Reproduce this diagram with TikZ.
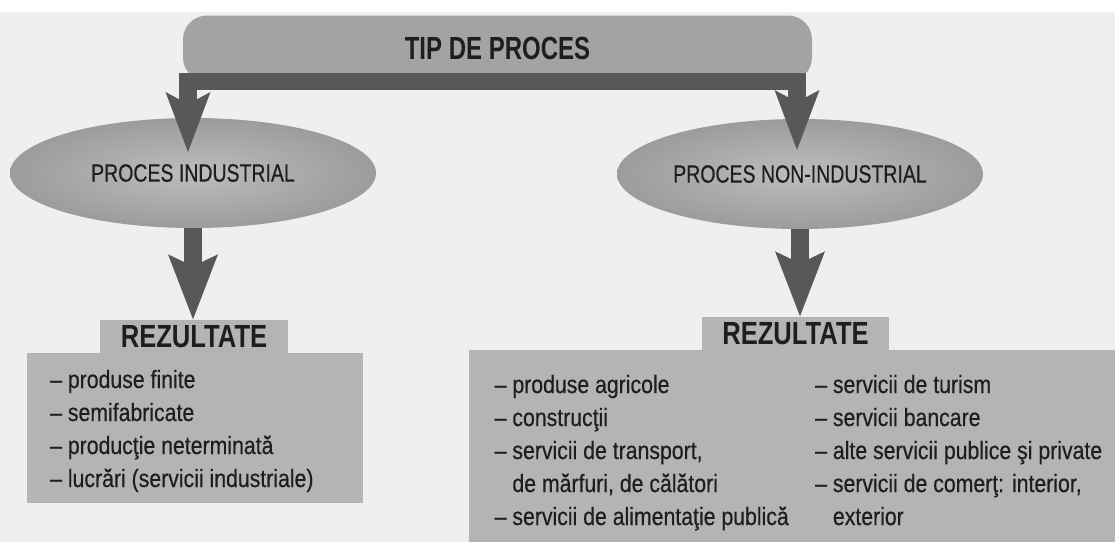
\documentclass[tikz,border=0pt]{standalone}
\usepackage{fontspec}
\setmainfont{Liberation Sans}
\newfontfamily\itemfont[FakeStretch=0.85,FakeBold=0.4]{Liberation Sans}
\newfontfamily\ellfont[FakeStretch=0.78,FakeBold=0.4]{Liberation Sans}
\newfontfamily\headfont[FakeStretch=0.8]{Liberation Sans}
\newfontfamily\titlefont[FakeStretch=0.75]{Liberation Sans}
\usetikzlibrary{arrows.meta,shapes.geometric}
\definecolor{bgc}{HTML}{EFEFEF}
\definecolor{barc}{HTML}{A3A3A3}
\definecolor{darkc}{HTML}{585858}
\definecolor{boxc}{HTML}{B4B4B4}
\definecolor{ellin}{HTML}{BDBDBD}
\definecolor{ellout}{HTML}{9C9C9C}
\definecolor{ink}{HTML}{1E1E1E}
\tikzset{
  toptip/.tip={Stealth[length=60pt,width=45pt,inset=12pt,line width=0pt]},
  downtip/.tip={Stealth[length=65pt,width=50pt,inset=12pt,line width=0pt]},
  topbar/.style={draw=none, fill=barc, rounded corners=24pt, minimum width=629pt,
    minimum height=66pt, inner sep=0pt, text=ink,
    font={\titlefont\bfseries\fontsize{32pt}{32pt}\selectfont}},
  ellnode/.style={ellipse, draw=none, shading=radial, inner color=ellin, outer color=ellout,
    minimum width=366pt, minimum height=110pt, inner sep=0pt, text=ink,
    font={\ellfont\fontsize{25pt}{25pt}\selectfont}},
  tabnode/.style={draw=none, fill=boxc, inner sep=0pt, text=ink,
    font={\headfont\bfseries\fontsize{32pt}{32pt}\selectfont}},
  boxnode/.style={draw=none, fill=boxc, inner sep=0pt},
  itemnode/.style={anchor=base west, inner sep=0pt, text=ink,
    font={\itemfont\fontsize{25pt}{25pt}\selectfont}},
  conn/.style={draw=darkc, line width=17.5pt, line join=miter},
}
\begin{document}
\begin{tikzpicture}[x=1pt,y=-1pt]
\useasboundingbox (0,0) rectangle (1115,542);
\fill[bgc] (0,12) rectangle (1115,542);
\fill[white] (0,0) rectangle (1115,12);

% top bar
\node[topbar] (tip) at (497.5,48.5) {TIP DE PROCES};

% ellipses
\node[ellnode] (pi) at (193,173) {PROCES INDUSTRIAL};
\node[ellnode] (pn) at (800,174) {PROCES NON-INDUSTRIAL};

% result boxes
\node[boxnode, minimum width=336pt, minimum height=150pt] (boxL) at (195,428) {};
\node[tabnode, minimum width=188pt, minimum height=35pt] (tabL) at (194,337) {REZULTATE};
\node[boxnode, minimum width=646pt, minimum height=192pt] (boxR) at (792,446) {};
\node[tabnode, minimum width=187pt, minimum height=35pt] (tabR) at (795.5,334) {REZULTATE};

% items left
\node[itemnode] (l1) at (50,388) {– produse finite};
\node[itemnode] (l2) at (50,421) {– semifabricate};
\node[itemnode] (l3) at (50,454) {– producţie neterminată};
\node[itemnode] (l4) at (50,487) {– lucrări (servicii industriale)};

% items right, column 1
\node[itemnode] (r1) at (494.5,393) {– produse agricole};
\node[itemnode] (r2) at (494.5,426) {– construcţii};
\node[itemnode] (r3) at (494.5,459) {– servicii de transport,};
\node[itemnode] (r4) at (494.5,492) {\phantom{– }de mărfuri, de călători};
\node[itemnode] (r5) at (494.5,525) {– servicii de alimentaţie publică};

% items right, column 2
\node[itemnode] (s1) at (815,393) {– servicii de turism};
\node[itemnode] (s2) at (815,426) {– servicii bancare};
\node[itemnode] (s3) at (815,459) {– alte servicii publice şi private};
\node[itemnode] (s4) at (815,492) {– servicii de comerţ: interior,};
\node[itemnode] (s5) at (815,525) {\phantom{– }exterior};

% connectors
\coordinate (tl) at (188,152);
\coordinate (tr) at (797,150);
\coordinate (cl) at (188,81.5);
\coordinate (cr) at (797,81.5);
\draw[conn, toptip-toptip] (tl) -- (cl) -- (cr) -- (tr);
\draw[conn, line width=18pt, -downtip] (pi.south) -- (pi.south |- tabL.north);
\draw[conn, line width=18pt, -downtip] (pn.south) -- (pn.south |- tabR.north);
\end{tikzpicture}
\end{document}
